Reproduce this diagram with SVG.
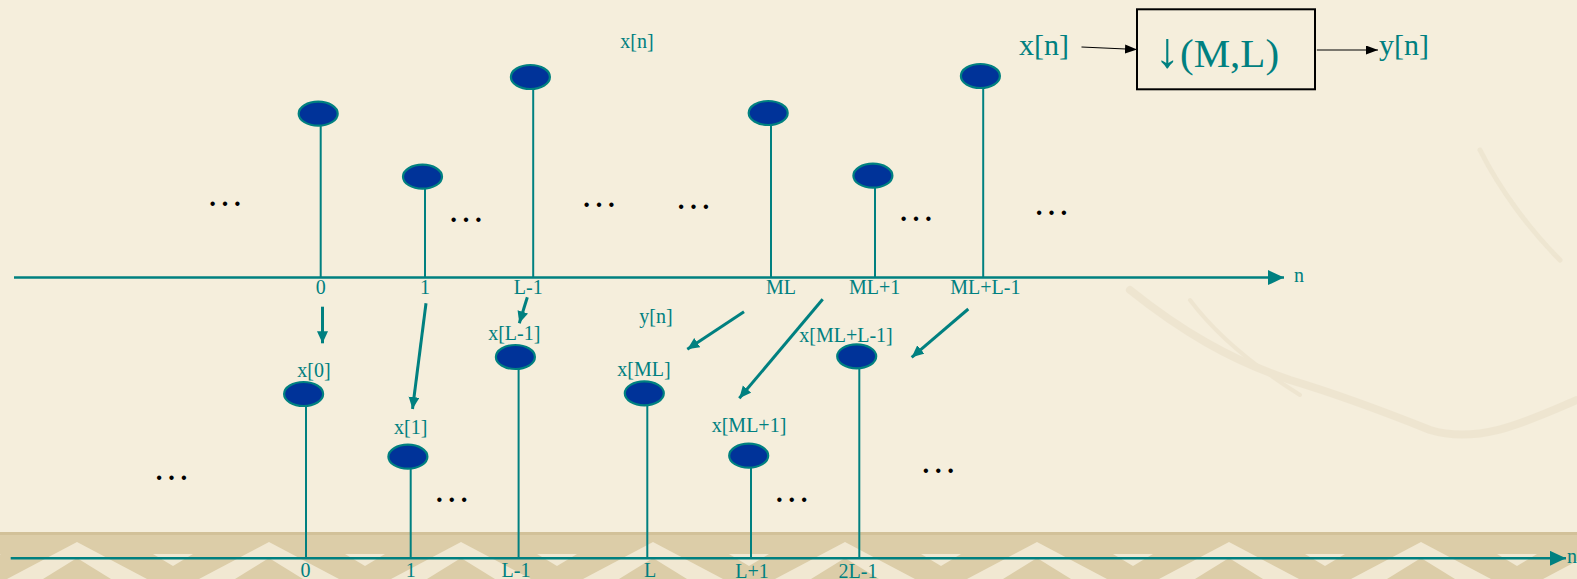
<svg xmlns="http://www.w3.org/2000/svg" width="1577" height="579" viewBox="0 0 1577 579">
<style>
.t{font-family:"Liberation Serif","Times New Roman",serif;fill:#008080}
.s{font-size:20px;text-anchor:middle}
.big{font-size:30px}
.dots{font-family:"Liberation Serif","Times New Roman",serif;font-size:37px;fill:#000;text-anchor:middle}
.stem{stroke:#008080;stroke-width:2;fill:none}
.dot{fill:#003399;stroke:#008080;stroke-width:2.2}
.axis{stroke:#008080;stroke-width:2.5;fill:none}
.arr{stroke:#008080;stroke-width:3;fill:none;marker-end:url(#ah)}
.barr{stroke:#000;stroke-width:1.2;fill:none;marker-end:url(#bh)}
</style>
<defs>
<marker id="ah" markerUnits="userSpaceOnUse" markerWidth="14" markerHeight="12" refX="12" refY="5.5" orient="auto"><path d="M0,0 L12,5.5 L0,11 z" fill="#008080"/></marker>
<marker id="axh" markerUnits="userSpaceOnUse" markerWidth="18" markerHeight="16" refX="16" refY="7.5" orient="auto"><path d="M0,0 L16,7.5 L0,15 z" fill="#008080"/></marker>
<marker id="bh" markerUnits="userSpaceOnUse" markerWidth="14" markerHeight="10" refX="12" refY="4.5" orient="auto"><path d="M0,0 L12,4.5 L0,9 z" fill="#000"/></marker>
<pattern id="band" patternUnits="userSpaceOnUse" x="-19" y="532" width="192" height="47">
<rect x="0" y="0" width="192" height="47" fill="#DCCDA8"/>
<polygon points="96,10 26,47 166,47" fill="#F1E8D2"/>
<polygon points="96,26 62,47 130,47" fill="#DCCDA8"/>
<polygon points="0,22 20,22 0,34" fill="#F1E8D2"/>
<polygon points="192,22 172,22 192,34" fill="#F1E8D2"/>
<rect x="0" y="0" width="192" height="3" fill="#D2C199"/>
</pattern>
</defs>
<rect x="0" y="0" width="1577" height="579" fill="#F5EEDC"/>
<g opacity="0.35" fill="none" stroke="#E2D6BC" stroke-linecap="round">
<path d="M1130,290 C1180,330 1230,360 1290,380 C1340,395 1380,410 1430,430 C1480,445 1530,420 1577,400" stroke-width="8"/>
<path d="M1190,300 C1220,340 1260,370 1300,395" stroke-width="4"/>
<path d="M1480,150 C1500,190 1530,230 1560,260" stroke-width="5"/>
</g>
<rect x="0" y="532" width="1577" height="47" fill="url(#band)"/>

<g id="axes">
<line class="axis" x1="14" y1="277.6" x2="1284" y2="277.6" marker-end="url(#axh)"/>
<line class="axis" x1="10.7" y1="558.3" x2="1566" y2="558.3" marker-end="url(#axh)"/>
<text class="t" x="1294" y="282" font-size="20">n</text>
<text class="t" x="1567" y="563" font-size="20">n</text>
</g>

<g id="upper-samples">
<g id="u0"><line class="stem" x1="320.7" y1="126" x2="320.7" y2="277.6"/><ellipse class="dot" cx="318.2" cy="113.7" rx="19.5" ry="12"/></g>
<g id="u1"><line class="stem" x1="425" y1="189" x2="425" y2="277.6"/><ellipse class="dot" cx="422.5" cy="176.7" rx="19.5" ry="12"/></g>
<g id="uL-1"><line class="stem" x1="533.2" y1="89" x2="533.2" y2="277.6"/><ellipse class="dot" cx="530.4" cy="77" rx="19.5" ry="12"/></g>
<g id="uML"><line class="stem" x1="771" y1="125" x2="771" y2="277.6"/><ellipse class="dot" cx="768.2" cy="113" rx="19.5" ry="12"/></g>
<g id="uML1"><line class="stem" x1="875" y1="188" x2="875" y2="277.6"/><ellipse class="dot" cx="872.9" cy="175.7" rx="19.5" ry="12"/></g>
<g id="uMLL1"><line class="stem" x1="983.2" y1="88" x2="983.2" y2="277.6"/><ellipse class="dot" cx="980.4" cy="76" rx="19.5" ry="12"/></g>
</g>

<g id="upper-labels">
<text class="t s" x="637" y="48">x[n]</text>
<text class="t s" x="320.7" y="294">0</text>
<text class="t s" x="425" y="294">1</text>
<text class="t s" x="528.3" y="294">L-1</text>
<text class="t s" x="781" y="294">ML</text>
<text class="t s" x="874.6" y="294">ML+1</text>
<text class="t s" x="985.4" y="294">ML+L-1</text>
</g>

<g id="upper-dots">
<text class="dots" x="225" y="205.5">…</text>
<text class="dots" x="466" y="222">…</text>
<text class="dots" x="599" y="207">…</text>
<text class="dots" x="693.6" y="208.7">…</text>
<text class="dots" x="916" y="221">…</text>
<text class="dots" x="1051.6" y="215.3">…</text>
</g>

<g id="lower-samples">
<g id="l0"><line class="stem" x1="306" y1="406" x2="306" y2="558.3"/><ellipse class="dot" cx="303.6" cy="394" rx="19.5" ry="12"/></g>
<g id="l1"><line class="stem" x1="410.7" y1="468.7" x2="410.7" y2="558.3"/><ellipse class="dot" cx="407.9" cy="456.7" rx="19.5" ry="12"/></g>
<g id="lL-1"><line class="stem" x1="518.6" y1="369" x2="518.6" y2="558.3"/><ellipse class="dot" cx="515.4" cy="357" rx="19.5" ry="12"/></g>
<g id="lL"><line class="stem" x1="647.3" y1="405.3" x2="647.3" y2="558.3"/><ellipse class="dot" cx="644.3" cy="393.3" rx="19.5" ry="12"/></g>
<g id="lL1"><line class="stem" x1="751" y1="467.7" x2="751" y2="558.3"/><ellipse class="dot" cx="748.7" cy="455.7" rx="19.5" ry="12"/></g>
<g id="l2L-1"><line class="stem" x1="859.3" y1="368.3" x2="859.3" y2="558.3"/><ellipse class="dot" cx="856.7" cy="356.3" rx="19.5" ry="12"/></g>
</g>

<g id="lower-labels">
<text class="t s" x="314" y="376.7">x[0]</text>
<text class="t s" x="410.7" y="434">x[1]</text>
<text class="t s" x="514.3" y="340">x[L-1]</text>
<text class="t s" x="656" y="323.3">y[n]</text>
<text class="t s" x="644" y="375.5">x[ML]</text>
<text class="t s" x="749" y="432">x[ML+1]</text>
<text class="t s" x="846" y="341.7">x[ML+L-1]</text>
<text class="t s" x="305.4" y="577">0</text>
<text class="t s" x="410.7" y="577">1</text>
<text class="t s" x="516" y="577">L-1</text>
<text class="t s" x="650" y="577">L</text>
<text class="t s" x="752" y="578">L+1</text>
<text class="t s" x="858" y="578">2L-1</text>
</g>

<g id="lower-dots">
<text class="dots" x="171.4" y="479.7">…</text>
<text class="dots" x="451.8" y="502">…</text>
<text class="dots" x="791.7" y="502">…</text>
<text class="dots" x="938.3" y="472.7">…</text>
</g>

<g id="connectors">
<line class="arr" x1="322.5" y1="306.7" x2="322.5" y2="343.3"/>
<line class="arr" x1="426" y1="303.3" x2="412.5" y2="409"/>
<line class="arr" x1="527.3" y1="297.3" x2="519.3" y2="323.3"/>
<line class="arr" x1="744" y1="311.7" x2="687.3" y2="349.3"/>
<line class="arr" x1="822.7" y1="299.3" x2="739.3" y2="398.3"/>
<line class="arr" x1="968.3" y1="309" x2="911.7" y2="357.3"/>
<line class="barr" x1="1081.5" y1="47" x2="1137" y2="49.5"/>
<line class="barr" x1="1316.8" y1="50" x2="1378" y2="50"/>
</g>

<g id="block">
<rect x="1137" y="9.3" width="178" height="80" fill="none" stroke="#000" stroke-width="2"/>
<text class="t big" x="1044" y="55" text-anchor="middle">x[n]</text>
<text class="t" x="1155" y="66.7" font-size="41"><tspan font-size="50">↓</tspan>(M,L)</text>
<text class="t big" x="1379" y="55">y[n]</text>
</g>
</svg>
